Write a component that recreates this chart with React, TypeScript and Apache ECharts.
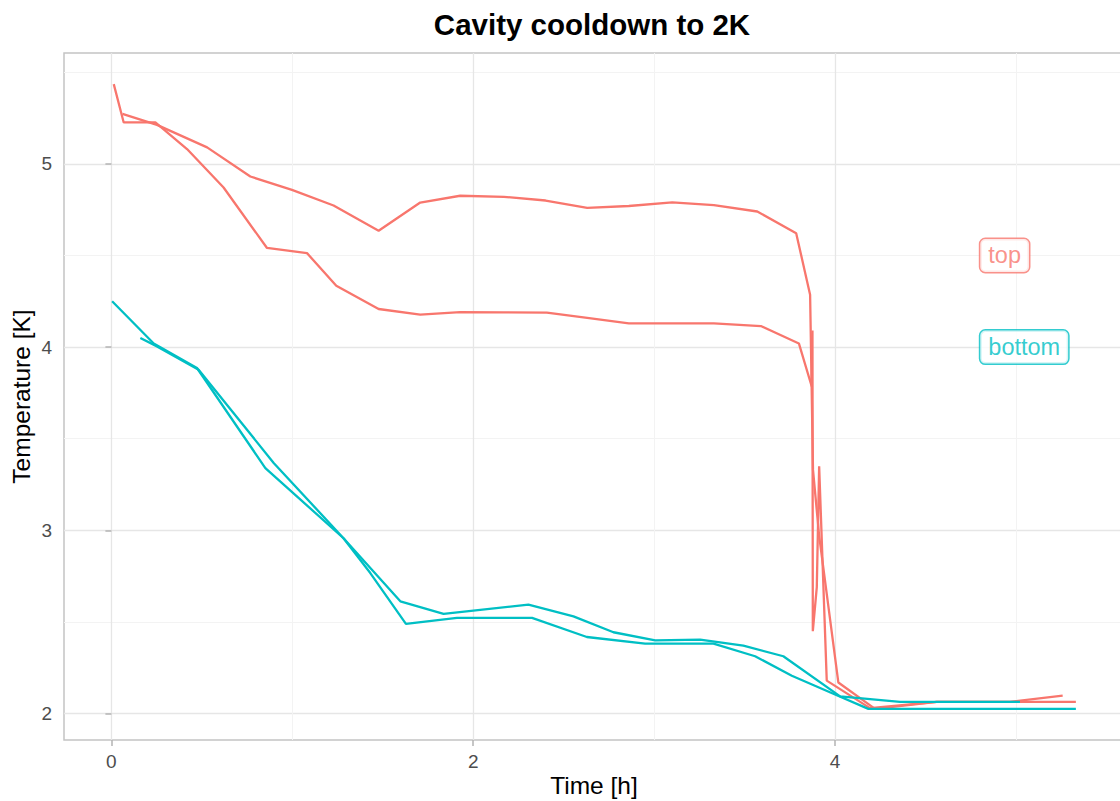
import React, { useEffect, useRef } from 'react';
import * as echarts from 'echarts';

// ---- data ----
const topRun1Time = [0.013, 0.068, 0.243, 0.418, 0.620, 0.860, 1.081, 1.243, 1.477, 1.707, 1.928, 2.170, 2.407, 2.630, 2.860, 3.100, 3.330, 3.590, 3.800, 3.871, 3.875, 3.877, 3.899, 3.912, 3.954, 4.193, 4.562, 5.331];
const topRun1Temp = [5.435, 5.226, 5.226, 5.081, 4.871, 4.541, 4.513, 4.335, 4.208, 4.177, 4.191, 4.190, 4.188, 4.160, 4.130, 4.130, 4.130, 4.115, 4.020, 3.785, 4.090, 2.450, 2.690, 3.350, 2.180, 2.030, 2.064, 2.064];

const topRun2Time = [0.061, 0.252, 0.529, 0.768, 0.998, 1.228, 1.477, 1.707, 1.928, 2.170, 2.400, 2.630, 2.860, 3.100, 3.330, 3.570, 3.785, 3.862, 3.878, 3.912, 4.018, 4.221, 4.562, 4.967, 5.258];
const topRun2Temp = [5.273, 5.213, 5.090, 4.931, 4.858, 4.773, 4.635, 4.789, 4.826, 4.820, 4.800, 4.760, 4.770, 4.790, 4.775, 4.740, 4.622, 4.286, 3.330, 2.970, 2.170, 2.026, 2.064, 2.064, 2.098];

const bottomRun1Time = [0.004, 0.234, 0.473, 0.851, 1.283, 1.431, 1.628, 1.910, 2.325, 2.628, 2.950, 3.328, 3.558, 3.761, 4.000, 4.184, 5.331];
const bottomRun1Temp = [4.250, 4.020, 3.886, 3.340, 2.957, 2.767, 2.490, 2.522, 2.522, 2.418, 2.382, 2.382, 2.313, 2.207, 2.104, 2.026, 2.026];

const bottomRun2Time = [0.160, 0.252, 0.482, 0.897, 1.283, 1.597, 1.836, 2.305, 2.554, 2.775, 3.006, 3.254, 3.493, 3.714, 4.028, 4.359, 5.022];
const bottomRun2Temp = [4.050, 4.004, 3.877, 3.368, 2.957, 2.613, 2.544, 2.595, 2.531, 2.444, 2.400, 2.404, 2.371, 2.313, 2.094, 2.064, 2.064];

const labelNames = ['top', 'bottom'];
const labelX = [4.8, 4.8];
const labelY = [4.5, 4.0];

const xMajorTicks = [0, 2, 4];
const xMinorTicks = [1, 3, 5];
const yMajorTicks = [2, 3, 4, 5];
const yMinorTicks = [2.5, 3.5, 4.5, 5.5];

const X_MIN = -0.262;
const X_MAX = 5.597;
const Y_MIN = 1.856;
const Y_MAX = 5.605;

const RED = '#F8766D';
const TEAL = '#00BFC4';
const FONT = "'Liberation Sans', Arial, Helvetica, sans-serif";

const zip = (xs: number[], ys: number[]) => xs.map((x, i) => [x, ys[i]]);

export default function App() {
  const ref = useRef<HTMLDivElement>(null);

  useEffect(() => {
    if (!ref.current) return;
    const chart = echarts.init(ref.current, null, { renderer: 'svg' });

    const lineSeries = (name: string, data: number[][], color: string) => ({
      type: 'line',
      name,
      data,
      xAxisIndex: 0,
      yAxisIndex: 0,
      showSymbol: false,
      symbol: 'none',
      silent: true,
      lineStyle: { color, width: 2.3 },
      itemStyle: { color },
    });

    const colors = [RED, TEAL];

    chart.setOption({
      animation: false,
      backgroundColor: '#ffffff',
      grid: {
        left: 64,
        top: 53,
        right: -4,
        bottom: 61,
        outerBoundsMode: 'none',
        containLabel: false,
        show: true,
        borderColor: '#c4c4c4',
        borderWidth: 1.5,
        backgroundColor: 'transparent',
      },
      graphic: [
        {
          type: 'text',
          x: 592,
          y: 24,
          style: {
            text: 'Cavity cooldown to 2K',
            fontSize: 29.5,
            fontWeight: 'bold',
            fontFamily: FONT,
            fill: '#000000',
            align: 'center',
            verticalAlign: 'middle',
          },
        },
      ],
      xAxis: [
        {
          type: 'value',
          min: X_MIN,
          max: X_MAX,
          name: 'Time [h]',
          nameLocation: 'middle',
          nameGap: 33,
          nameMoveOverlap: false,
          nameTextStyle: { fontSize: 24.5, color: '#000000', fontFamily: FONT },
          axisLine: { show: false },
          axisTick: {
            show: true,
            length: 6,
            customValues: xMajorTicks,
            lineStyle: { color: '#b3b3b3', width: 1.5 },
          },
          axisLabel: {
            customValues: xMajorTicks,
            fontSize: 19,
            color: '#4d4d4d',
            margin: 12,
            fontFamily: FONT,
          },
          splitLine: { show: true, lineStyle: { color: '#e6e6e6', width: 1.3 } },
        },
        {
          type: 'value',
          min: X_MIN,
          max: X_MAX,
          position: 'bottom',
          axisLine: { show: false },
          axisTick: { show: false, customValues: xMinorTicks },
          axisLabel: { show: false, customValues: xMinorTicks },
          splitLine: { show: true, lineStyle: { color: '#f3f3f3', width: 1 } },
        },
      ],
      yAxis: [
        {
          type: 'value',
          min: Y_MIN,
          max: Y_MAX,
          name: 'Temperature [K]',
          nameLocation: 'middle',
          nameGap: 30,
          nameMoveOverlap: false,
          nameTextStyle: { fontSize: 24.5, color: '#000000', fontFamily: FONT },
          axisLine: { show: false },
          axisTick: {
            show: true,
            length: 6,
            customValues: yMajorTicks,
            lineStyle: { color: '#b3b3b3', width: 1.5 },
          },
          axisLabel: {
            customValues: yMajorTicks,
            fontSize: 19,
            color: '#4d4d4d',
            margin: 12,
            fontFamily: FONT,
          },
          splitLine: { show: true, lineStyle: { color: '#e6e6e6', width: 1.3 } },
        },
        {
          type: 'value',
          min: Y_MIN,
          max: Y_MAX,
          position: 'left',
          axisLine: { show: false },
          axisTick: { show: false, customValues: yMinorTicks },
          axisLabel: { show: false, customValues: yMinorTicks },
          splitLine: { show: true, lineStyle: { color: '#f3f3f3', width: 1 } },
        },
      ],
      series: [
        lineSeries('top', zip(topRun1Time, topRun1Temp), RED),
        lineSeries('top', zip(topRun2Time, topRun2Temp), RED),
        lineSeries('bottom', zip(bottomRun1Time, bottomRun1Temp), TEAL),
        lineSeries('bottom', zip(bottomRun2Time, bottomRun2Temp), TEAL),
        {
          type: 'scatter',
          name: 'labels',
          xAxisIndex: 0,
          yAxisIndex: 0,
          silent: true,
          symbolSize: 1,
          itemStyle: { color: 'rgba(0,0,0,0)' },
          z: 10,
          data: labelNames.map((n, i) => ({
            value: [labelX[i], labelY[i]],
            label: {
              show: true,
              formatter: n,
              position: 'right',
              distance: 0,
              color: colors[i],
              fontSize: 23.5,
              fontFamily: FONT,
              backgroundColor: '#ffffff',
              borderColor: colors[i],
              borderWidth: 1.5,
              borderRadius: 5,
              padding: [5, 8, 4, 8],
            },
          })),
        },
      ],
    });

    return () => {
      chart.dispose();
    };
  }, []);

  return (
    <div
      ref={ref}
      style={{ position: 'absolute', left: 0, top: 0, width: 1120, height: 801 }}
    />
  );
}
